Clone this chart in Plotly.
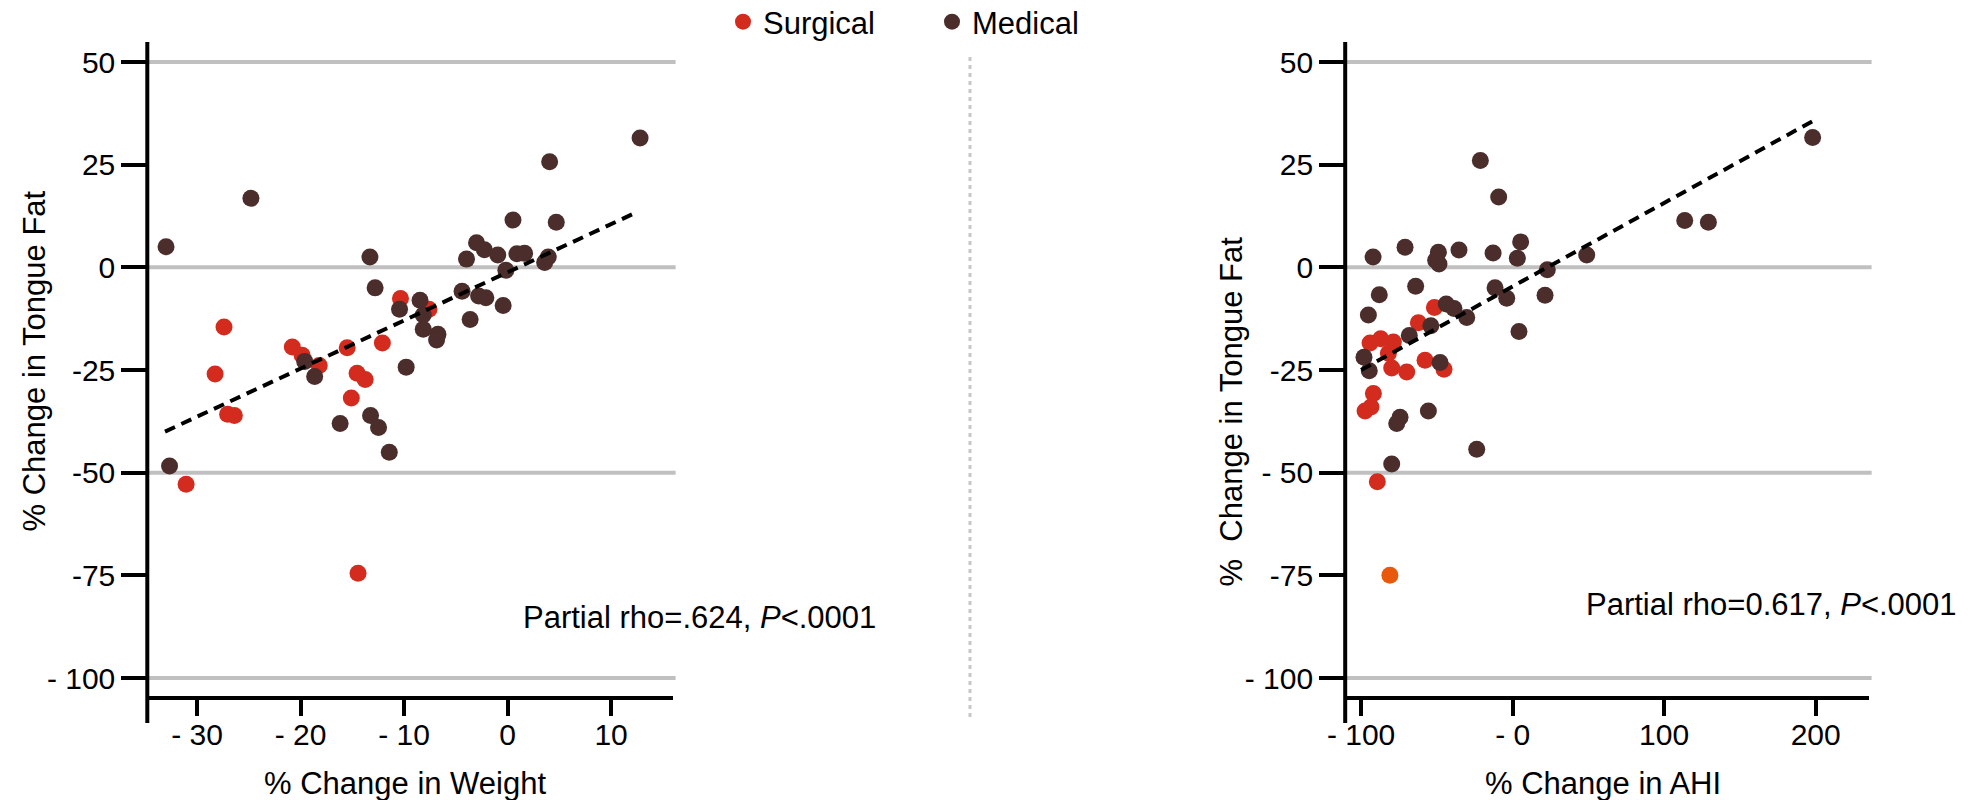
import plotly.graph_objects as go

W, H = 1977, 800

# ---------------- data ----------------
left_surg_x = [-10.35, -7.6, -27.4, -12.1, -20.8, -15.5, -19.85, -18.2, -28.26, -14.54, -13.76, -15.1, -27.05, -26.4, -31.06, -14.45]
left_surg_y = [-7.6, -10.2, -14.5, -18.4, -19.4, -19.6, -21.4, -23.9, -26.0, -25.8, -27.3, -31.8, -35.8, -36.1, -52.8, -74.5]

left_med_x = [-33.0, -24.8, 12.8, 4.06, 0.52, 4.7, -13.3, -3.0, -2.24, -3.97, -0.95, 0.9, 1.64, 3.58, 3.93, -0.17,
              -12.8, -4.4, -2.8, -2.1, -0.43, -8.46, -10.44, -8.15, -3.62, -8.15, -6.73, -6.86, -19.6, -9.8,
              -18.64, -16.18, -13.24, -12.47, -11.43, -32.66]
left_med_y = [5.0, 16.8, 31.5, 25.7, 11.5, 11.0, 2.5, 6.0, 4.3, 2.0, 3.0, 3.3, 3.4, 1.2, 2.5, -0.7,
              -5.0, -5.8, -7.0, -7.4, -9.3, -8.0, -10.2, -11.6, -12.7, -15.1, -16.3, -17.7, -22.9, -24.3,
              -26.6, -38.0, -36.1, -39.0, -45.0, -48.4]

right_surg_x = [-51.6, -62.2, -94.1, -87.1, -78.7, -82.0, -79.8, -69.9, -57.8, -45.3, -91.9, -97.4, -93.5, -89.3]
right_surg_y = [-9.8, -13.5, -18.4, -17.4, -18.2, -20.9, -24.5, -25.5, -22.6, -24.8, -30.7, -35.0, -34.0, -52.2]
right_orange_x = [-81.0]
right_orange_y = [-75.0]

right_med_x = [-21.3, -9.2, -92.1, -71.0, -49.0, -50.8, -48.6, -35.4, -12.9, 5.3, 3.1, 48.9, 22.9, -11.6, -3.9,
               21.4, 4.2, 113.6, 129.2, 198.0, -88.0, -95.2, -64.0, -43.8, -38.7, -30.3, -54.0, -68.2, -98.1,
               -94.6, -47.9, -74.3, -76.5, -55.6, -23.7, -79.8]
right_med_y = [26.0, 17.1, 2.5, 4.9, 3.7, 1.7, 0.8, 4.2, 3.5, 6.2, 2.2, 3.0, -0.6, -5.0, -7.5,
               -6.8, -15.6, 11.4, 11.0, 31.6, -6.7, -11.6, -4.6, -8.9, -10.0, -12.2, -14.2, -16.6, -21.9,
               -25.2, -23.2, -36.5, -38.0, -35.0, -44.3, -47.9]

left_fit_x = [-33.1, 12.2]
left_fit_y = [-40.0, 13.1]
right_fit_x = [-100.0, 200.9]
right_fit_y = [-25.0, 36.2]

y_tickvals = [50, 25, 0, -25, -50, -75, -100]
left_y_ticktext = ["50", "25", "0", "-25", "-50", "-75", "- 100"]
right_y_ticktext = ["50", "25", "0", "-25", "- 50", "-75", "- 100"]
left_x_tickvals = [-30, -20, -10, 0, 10]
left_x_ticktext = ["- 30", "- 20", "- 10", "0", "10"]
right_x_tickvals = [-100, 0, 100, 200]
right_x_ticktext = ["- 100", "- 0", "100", "200"]
grid_y = [50, 0, -50, -100]

# ---------------- styles ----------------
RED = "#d42b1f"
BROWN = "#4b2d2b"
ORANGE = "#e8590c"
FONT = "Liberation Sans, Arial, Helvetica, sans-serif"
MS = 17

fig = go.Figure()

fig.add_trace(go.Scatter(x=left_surg_x, y=left_surg_y, mode="markers", name="Surgical",
                         marker=dict(color=RED, size=MS), xaxis="x", yaxis="y", legendrank=1))
fig.add_trace(go.Scatter(x=left_med_x, y=left_med_y, mode="markers", name="Medical",
                         marker=dict(color=BROWN, size=MS), xaxis="x", yaxis="y", legendrank=2))
fig.add_trace(go.Scatter(x=left_fit_x, y=left_fit_y, mode="lines", showlegend=False,
                         line=dict(color="black", width=4, dash="11px,7px"), xaxis="x", yaxis="y"))

fig.add_trace(go.Scatter(x=right_surg_x, y=right_surg_y, mode="markers", showlegend=False,
                         marker=dict(color=RED, size=MS), xaxis="x2", yaxis="y2"))
fig.add_trace(go.Scatter(x=right_orange_x, y=right_orange_y, mode="markers", showlegend=False,
                         marker=dict(color=ORANGE, size=MS), xaxis="x2", yaxis="y2"))
fig.add_trace(go.Scatter(x=right_med_x, y=right_med_y, mode="markers", showlegend=False,
                         marker=dict(color=BROWN, size=MS), xaxis="x2", yaxis="y2"))
fig.add_trace(go.Scatter(x=right_fit_x, y=right_fit_y, mode="lines", showlegend=False,
                         line=dict(color="black", width=4, dash="11px,7px"), xaxis="x2", yaxis="y2"))

ydom = [1 - 696 / H, 1 - 42 / H]
yrange = [-104.38, 54.87]
tickfont = dict(family=FONT, size=30, color="black")

xcommon = dict(ticks="outside", ticklen=16, tickwidth=4, tickcolor="black", showline=True,
               linewidth=4, linecolor="black", showgrid=False, zeroline=False, tickfont=tickfont,
               fixedrange=True, automargin=False, ticklabelstandoff=-7)
ycommon = dict(ticks="outside", ticklen=25, tickwidth=4, tickcolor="black", showline=False,
               showgrid=False, zeroline=False, tickfont=tickfont, range=yrange, domain=ydom,
               tickvals=y_tickvals, fixedrange=True, automargin=False)

fig.update_layout(
    template="none",
    width=W, height=H,
    margin=dict(l=0, r=0, t=0, b=0, autoexpand=False),
    paper_bgcolor="white", plot_bgcolor="white",
    font=dict(family=FONT, color="black"),
    hovermode=False,
    xaxis=dict(domain=[147.3 / W, 673 / W], range=[-34.81, 15.98], anchor="y",
               tickvals=left_x_tickvals, ticktext=left_x_ticktext, **xcommon),
    yaxis=dict(anchor="x", ticktext=left_y_ticktext, **ycommon),
    xaxis2=dict(domain=[1345.2 / W, 1869 / W], range=[-110.5, 235.2], anchor="y2",
                tickvals=right_x_tickvals, ticktext=right_x_ticktext, **xcommon),
    yaxis2=dict(anchor="x2", ticktext=right_y_ticktext, **ycommon),
    legend=dict(orientation="h", x=723 / W, xanchor="left", y=1 - 22 / H, yanchor="middle",
                font=dict(family=FONT, size=31, color="black"), entrywidth=164,
                bgcolor="rgba(0,0,0,0)", borderwidth=0, itemclick=False, itemdoubleclick=False),
)

shapes = []
# gridlines at selected values
for (xr, yr) in [("x domain", "y"), ("x2 domain", "y2")]:
    for g in grid_y:
        shapes.append(dict(type="line", xref=xr, yref=yr, x0=0, x1=1.005, y0=g, y1=g,
                           line=dict(color="#c0c0c0", width=4), layer="below"))
    # extended y-axis line
    shapes.append(dict(type="line", xref=xr, yref="paper", x0=0, x1=0,
                       y0=1 - 723 / H, y1=1 - 42 / H, line=dict(color="black", width=4)))
# dotted divider
shapes.append(dict(type="line", xref="paper", yref="paper", x0=970 / W, x1=970 / W,
                   y0=1 - 717 / H, y1=1 - 57 / H, line=dict(color="#c8c8c8", width=3, dash="4px,4px")))
fig.update_layout(shapes=shapes)

tf = dict(family=FONT, size=31, color="black")
ann = [
    dict(text="% Change in Weight", x=405 / W, y=1 - 783 / H, xref="paper", yref="paper",
         showarrow=False, xanchor="center", yanchor="middle", font=tf),
    dict(text="% Change in AHI", x=1602.6 / W, y=1 - 783 / H, xref="paper", yref="paper",
         showarrow=False, xanchor="center", yanchor="middle", font=tf),
    dict(text="% Change in Tongue Fat", x=34 / W, y=1 - 361.5 / H, xref="paper", yref="paper",
         showarrow=False, xanchor="center", yanchor="middle", textangle=-90, font=tf),
    dict(text="%\u00a0 Change in Tongue Fat", x=1231 / W, y=1 - 411.5 / H, xref="paper", yref="paper",
         showarrow=False, xanchor="center", yanchor="middle", textangle=-90, font=tf),
    dict(text="Partial rho=.624, <i>P</i><.0001", x=521 / W, y=1 - 617 / H, xref="paper", yref="paper",
         showarrow=False, xanchor="left", yanchor="middle", font=tf),
    dict(text="Partial rho=0.617, <i>P</i><.0001", x=1584 / W, y=1 - 604 / H, xref="paper", yref="paper",
         showarrow=False, xanchor="left", yanchor="middle", font=tf),
]
fig.update_layout(annotations=ann)

fig.write_html("out.html")
